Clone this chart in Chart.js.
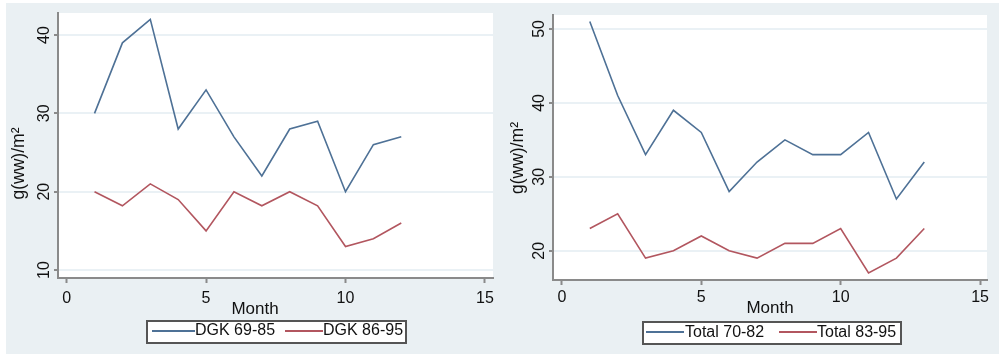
<!DOCTYPE html>
<html><head><meta charset="utf-8">
<script src="https://cdn.jsdelivr.net/npm/chart.js@4.4.1/dist/chart.umd.min.js"></script>
<style>
html,body{margin:0;padding:0;background:#fff;}
#wrap{position:relative;width:999px;height:357px;overflow:hidden;background:#fff;}
#bg{position:absolute;left:6px;top:3px;width:993px;height:351px;background:#eaf0f3;}
.panel{position:absolute;top:0;height:357px;}
canvas{display:block;}
.leg{position:absolute;box-sizing:border-box;border:2px solid #555;background:#fff;}
.sw{position:absolute;height:2px;}
.lt{position:absolute;font-family:"Liberation Sans",Arial,sans-serif;font-size:16px;line-height:16px;white-space:nowrap;color:#111;}
</style>
</head>
<body>
<div id="wrap">
  <div id="bg"></div>
  <div class="panel" style="left:0;width:499px;"><canvas id="c1" width="499" height="357"></canvas></div>
  <div class="panel" style="left:499px;width:500px;"><canvas id="c2" width="500" height="357"></canvas></div>
  <div class="leg" style="left:146px;top:320px;width:261px;height:24px;"></div>
  <div class="sw" style="left:152px;top:330px;width:43px;background:#4e7196;"></div>
  <div class="lt" id="l1a" style="left:195px;top:321.5px;"></div>
  <div class="sw" style="left:285px;top:330px;width:38px;background:#b2565f;"></div>
  <div class="lt" id="l1b" style="left:323px;top:321.5px;"></div>
  <div class="leg" style="left:642px;top:321px;width:260px;height:24px;"></div>
  <div class="sw" style="left:646px;top:331px;width:38px;background:#4e7196;"></div>
  <div class="lt" id="l2a" style="left:685px;top:323.5px;"></div>
  <div class="sw" style="left:779px;top:331px;width:38px;background:#b2565f;"></div>
  <div class="lt" id="l2b" style="left:817px;top:323.5px;"></div>
</div>
<script>
// ---- data ----
const monthsLeft = [1,2,3,4,5,6,7,8,9,10,11,12];
const dgk6985 = [30,39,42,28,33,27,22,28,29,20,26,27];
const dgk8695 = [20,18.2,21,19,15,20,18.2,20,18.2,13,14,16];
const monthsRight = [1,2,3,4,5,6,7,8,9,10,11,12,13];
const total7082 = [51,41,33,39,36,28,32,35,33,33,36,27,32];
const total8395 = [23,25,19,20,22,20,19,21,21,23,17,19,23];
const xTicks = [0,5,10,15];
const yTicksLeft = [10,20,30,40];
const yTicksRight = [20,30,40,50];
const seriesNamesLeft = ["DGK 69-85","DGK 86-95"];
const seriesNamesRight = ["Total 70-82","Total 83-95"];
const xTitle = "Month";
const yTitle = "g(ww)/m\u00B2";

const BLUE = '#4e7196', RED = '#b2565f', AXIS = '#8a8a8a', GRID = '#eaf1f5';
const FONT = '"Liberation Sans", Arial, sans-serif';

document.getElementById('l1a').textContent = seriesNamesLeft[0];
document.getElementById('l1b').textContent = seriesNamesLeft[1];
document.getElementById('l2a').textContent = seriesNamesRight[0];
document.getElementById('l2b').textContent = seriesNamesRight[1];

const txtPlugin = {
  id: 'txt',
  beforeDraw(chart) {
    const {ctx, chartArea: a} = chart;
    ctx.save();
    ctx.fillStyle = '#fff';
    ctx.fillRect(a.left, a.top, a.right - a.left, a.bottom - a.top);
    ctx.restore();
  },
  afterDraw(chart, args, o) {
    const ctx = chart.ctx;
    const xs = chart.scales.x, ys = chart.scales.y;
    ctx.save();
    ctx.fillStyle = '#111';
    ctx.font = '16px ' + FONT;
    ctx.textAlign = 'center';
    ctx.textBaseline = 'alphabetic';
    o.xticks.forEach(v => ctx.fillText(String(v), xs.getPixelForValue(v), o.xBase));
    o.yticks.forEach(v => {
      ctx.save();
      ctx.translate(o.yBase, ys.getPixelForValue(v));
      ctx.rotate(-Math.PI / 2);
      ctx.fillText(String(v), 0, 0);
      ctx.restore();
    });
    ctx.font = '17px ' + FONT;
    ctx.fillText(xTitle, o.monthX, o.monthY);
    ctx.save();
    ctx.font = '17.5px ' + FONT;
    ctx.translate(o.ytX, o.ytY);
    ctx.rotate(-Math.PI / 2);
    ctx.fillText(yTitle, 0, 0);
    ctx.restore();
    ctx.restore();
  }
};

function makeChart(id, months, s1, s2, names, xr, yr, yticks, box, txt) {
  const H = 357;
  const W = document.getElementById(id).width;
  return new Chart(document.getElementById(id), {
    type: 'line',
    data: {
      datasets: [
        {label: names[0], data: months.map((m, i) => ({x: m, y: s1[i]})), borderColor: BLUE, borderWidth: 1.6, pointRadius: 0, tension: 0, fill: false},
        {label: names[1], data: months.map((m, i) => ({x: m, y: s2[i]})), borderColor: RED, borderWidth: 1.6, pointRadius: 0, tension: 0, fill: false}
      ]
    },
    options: {
      responsive: false,
      animation: false,
      devicePixelRatio: 1,
      layout: {padding: {left: 0, top: box.top, right: W - box.right, bottom: 0}},
      plugins: {legend: {display: false}, tooltip: {enabled: false}, txt: Object.assign({xticks: xTicks, yticks: yticks}, txt)},
      scales: {
        x: {
          type: 'linear', min: xr[0], max: xr[1],
          afterBuildTicks: s => { s.ticks = xTicks.map(v => ({value: v})); },
          afterFit: s => { s.height = H - box.bottom; },
          ticks: {display: false},
          grid: {drawOnChartArea: false, drawTicks: true, tickLength: 5, tickColor: AXIS, tickWidth: 2},
          border: {display: true, color: AXIS, width: 2}
        },
        y: {
          type: 'linear', min: yr[0], max: yr[1],
          afterBuildTicks: s => { s.ticks = yticks.map(v => ({value: v})); },
          afterFit: s => { s.width = box.left; },
          ticks: {display: false},
          grid: {drawOnChartArea: true, color: GRID, lineWidth: 2, drawTicks: true, tickLength: 4, tickColor: AXIS, tickWidth: 2},
          border: {display: true, color: AXIS, width: 2}
        }
      }
    },
    plugins: [txtPlugin]
  });
}

makeChart('c1', monthsLeft, dgk6985, dgk8695, seriesNamesLeft,
  [-0.31, 15.29], [8.98, 42.81], yTicksLeft,
  {left: 58, right: 493, top: 13, bottom: 278},
  {xBase: 302.5, yBase: 49, monthX: 255, monthY: 313.5, ytX: 24, ytY: 163.5});

makeChart('c2', monthsRight, total7082, total8395, seriesNamesRight,
  [-0.32, 15.25], [16.04, 51.89], yTicksRight,
  {left: 54, right: 488, top: 15, bottom: 280},
  {xBase: 301.5, yBase: 45, monthX: 271, monthY: 312.5, ytX: 23.5, ytY: 158});
</script>
</body></html>
